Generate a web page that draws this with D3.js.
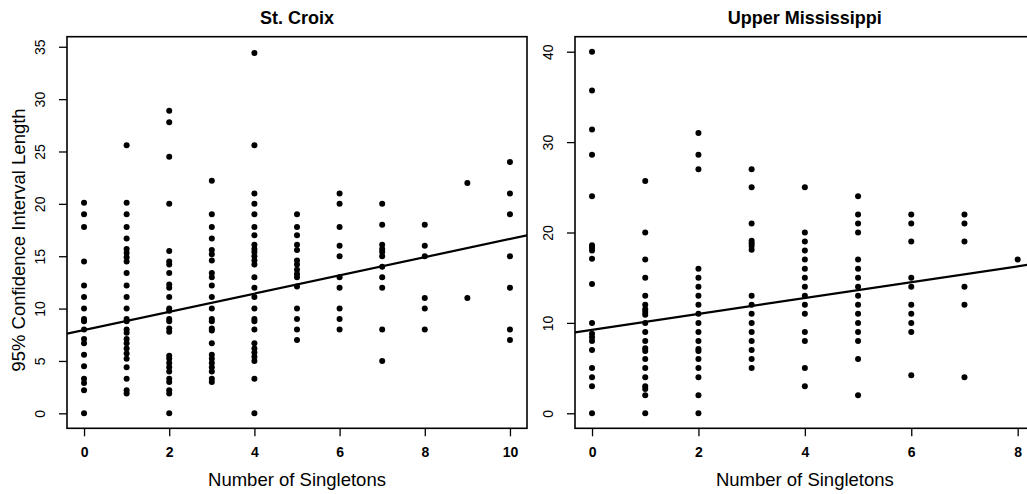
<!DOCTYPE html>
<html>
<head>
<meta charset="utf-8">
<script src="https://cdn.jsdelivr.net/npm/d3@7"></script>
<style>
  html, body { margin: 0; padding: 0; background: #fff; }
  svg { display: block; }
  text { font-family: "Liberation Sans", Arial, Helvetica, sans-serif; fill: #000; }
</style>
</head>
<body>
<svg id="chart" width="1027" height="494"></svg>
<script>
// ---- St. Croix: CI length by number of singletons ----
const stCroixX = [0, 1, 2, 3, 4, 5, 6, 7, 8, 9, 10];
const stCroixY = [
  [20.1, 19.0, 17.8, 14.5, 12.2, 11.1, 10.0, 9.0, 8.8, 8.0, 7.1, 6.7, 5.6, 4.5, 3.3, 2.9, 2.2, 0],
  [25.6, 20.1, 19.0, 17.8, 16.7, 15.7, 15.3, 14.9, 14.5, 13.4, 12.2, 11.1, 10.0, 9.0, 8.8, 8.0, 7.7, 7.1, 6.7, 6.2, 5.7, 5.2, 4.4, 3.3, 2.2, 1.9],
  [28.9, 27.8, 24.5, 20.0, 15.5, 14.5, 14.2, 13.4, 12.3, 12.0, 11.1, 10.0, 9.8, 9.0, 8.8, 8.1, 7.8, 5.5, 5.2, 4.8, 4.4, 4.0, 3.3, 3.0, 2.2, 1.9, 0],
  [22.2, 19.0, 17.8, 16.7, 15.6, 15.2, 14.6, 13.4, 13.0, 12.2, 11.1, 10.0, 9.0, 8.8, 8.1, 7.9, 6.7, 5.6, 5.2, 4.8, 4.4, 4.0, 3.3, 3.0],
  [34.4, 25.6, 21.0, 20.0, 19.0, 17.8, 17.0, 16.1, 15.7, 15.4, 15.0, 14.6, 14.2, 13.0, 12.0, 11.1, 10.0, 9.0, 8.8, 8.0, 6.7, 6.2, 5.8, 5.4, 5.0, 3.3, 0],
  [19.0, 17.8, 17.0, 16.1, 15.6, 14.6, 14.2, 13.7, 13.3, 13.0, 12.1, 10.0, 9.0, 8.0, 7.0],
  [21.0, 20.0, 17.8, 16.0, 15.0, 13.0, 12.0, 10.0, 9.0, 8.0],
  [20.0, 18.0, 16.1, 15.7, 15.4, 15.0, 14.0, 13.0, 12.0, 8.0, 5.0],
  [18.0, 16.0, 15.0, 11.0, 10.0, 8.0],
  [22.0, 11.0],
  [24.0, 21.0, 19.0, 15.0, 12.0, 8.0, 7.0]
];
const stCroixFit = [7.95, 0.87];          // intercept, slope
const stCroixXTicks = [0, 2, 4, 6, 8, 10];
const stCroixYTicks = [0, 5, 10, 15, 20, 25, 30, 35];

// ---- Upper Mississippi ----
const upperMissX = [0, 1, 2, 3, 4, 5, 6, 7, 8];
const upperMissY = [
  [40.0, 35.7, 31.4, 28.6, 24.0, 18.6, 18.3, 18.0, 17.1, 14.3, 10.0, 8.8, 8.4, 8.0, 7.0, 5.0, 4.0, 3.0, 0],
  [25.7, 20.0, 17.0, 15.0, 13.0, 12.0, 11.5, 11.2, 10.9, 10.0, 9.0, 8.0, 7.2, 6.9, 6.0, 5.0, 4.0, 3.0, 2.7, 2.0, 0],
  [31.0, 28.6, 27.0, 16.0, 15.0, 14.0, 13.0, 12.0, 11.0, 10.0, 9.0, 8.0, 7.1, 6.9, 6.0, 5.0, 4.0, 2.0, 0],
  [27.0, 25.0, 21.0, 19.1, 18.8, 18.5, 18.1, 13.0, 12.0, 11.0, 10.0, 9.0, 8.0, 7.0, 6.0, 5.0],
  [25.0, 20.0, 19.0, 18.0, 17.0, 16.0, 15.0, 14.0, 13.0, 12.0, 11.0, 9.0, 8.0, 5.0, 3.0],
  [24.0, 22.0, 21.0, 20.0, 17.0, 16.0, 15.0, 14.0, 13.0, 12.0, 11.0, 10.0, 9.0, 8.0, 6.0, 2.0],
  [22.0, 21.0, 19.0, 15.0, 14.0, 12.0, 11.0, 10.0, 9.0, 4.2],
  [22.0, 21.0, 19.0, 14.0, 12.0, 4.0],
  [17.0]
];
const upperMissFit = [9.24, 0.877];
const upperMissXTicks = [0, 2, 4, 6, 8];
const upperMissYTicks = [0, 10, 20, 30, 40];

const svg = d3.select("#chart");

function panel(opts) {
  const { id, title, xs, ys, fit, xTicks, yTicks, xDomain, yDomain, box, yTitle } = opts;
  const x = d3.scaleLinear().domain(xDomain).range([box.left, box.right]);
  const y = d3.scaleLinear().domain(yDomain).range([box.bottom, box.top]);

  const pts = [];
  xs.forEach((xv, i) => ys[i].forEach(v => pts.push([xv, v])));

  const g = svg.append("g");

  g.append("clipPath").attr("id", id)
    .append("rect")
    .attr("x", box.left).attr("y", box.top)
    .attr("width", box.right - box.left).attr("height", box.bottom - box.top);

  // points
  g.append("g").selectAll("circle").data(pts).join("circle")
    .attr("cx", d => x(d[0])).attr("cy", d => y(d[1]))
    .attr("r", 3).attr("fill", "#000");

  // fitted line across the plotting region
  const [a, b] = fit;
  g.append("line")
    .attr("clip-path", `url(#${id})`)
    .attr("x1", x(xDomain[0])).attr("y1", y(a + b * xDomain[0]))
    .attr("x2", x(xDomain[1])).attr("y2", y(a + b * xDomain[1]))
    .attr("stroke", "#000").attr("stroke-width", 2.2);

  // frame
  g.append("rect")
    .attr("x", box.left).attr("y", box.top)
    .attr("width", box.right - box.left).attr("height", box.bottom - box.top)
    .attr("fill", "none").attr("stroke", "#000").attr("stroke-width", 1.6);

  // bottom axis
  const xa = g.append("g").attr("transform", `translate(0,${box.bottom})`)
    .call(d3.axisBottom(x).tickValues(xTicks).tickSize(8).tickFormat(d3.format("d")));
  xa.select(".domain").remove();
  xa.selectAll("line").attr("stroke-width", 1.3);
  xa.selectAll("text")
    .attr("y", 28.5).attr("dy", 0)
    .attr("font-size", 14).attr("font-weight", "bold")
    .attr("font-family", "Liberation Sans, Arial, sans-serif").attr("fill", "#000");

  // left axis, labels parallel to the axis
  const ya = g.append("g").attr("transform", `translate(${box.left},0)`)
    .call(d3.axisLeft(y).tickValues(yTicks).tickSize(8).tickFormat(d3.format("d")));
  ya.select(".domain").remove();
  ya.selectAll("line").attr("stroke-width", 1.3);
  ya.selectAll("text")
    .attr("transform", "rotate(-90)")
    .attr("x", 0).attr("y", -22).attr("dy", 0)
    .attr("text-anchor", "middle")
    .attr("font-size", 14)
    .attr("font-family", "Liberation Sans, Arial, sans-serif").attr("fill", "#000");

  const cx = (box.left + box.right) / 2;
  g.append("text")
    .attr("x", cx).attr("y", 24)
    .attr("text-anchor", "middle")
    .attr("font-size", 18).attr("font-weight", "bold")
    .text(title);

  g.append("text")
    .attr("x", cx).attr("y", 486)
    .attr("text-anchor", "middle")
    .attr("font-size", 18.5)
    .text("Number of Singletons");

  if (yTitle) {
    g.append("text")
      .attr("transform", `translate(25,240) rotate(-90)`)
      .attr("text-anchor", "middle")
      .attr("font-size", 18.5)
      .text(yTitle);
  }
}

panel({
  id: "clipA", title: "St. Croix",
  xs: stCroixX, ys: stCroixY, fit: stCroixFit,
  xTicks: stCroixXTicks, yTicks: stCroixYTicks,
  xDomain: [-0.4, 10.4], yDomain: [-1.43, 35.96],
  box: { left: 67, right: 527, top: 36.7, bottom: 428.3 },
  yTitle: "95% Confidence Interval Length"
});

panel({
  id: "clipB", title: "Upper Mississippi",
  xs: upperMissX, ys: upperMissY, fit: upperMissFit,
  xTicks: upperMissXTicks, yTicks: upperMissYTicks,
  xDomain: [-0.32, 8.32], yDomain: [-1.66, 41.66],
  box: { left: 575, right: 1034.7, top: 36.7, bottom: 428.3 },
  yTitle: null
});
</script>
</body>
</html>
